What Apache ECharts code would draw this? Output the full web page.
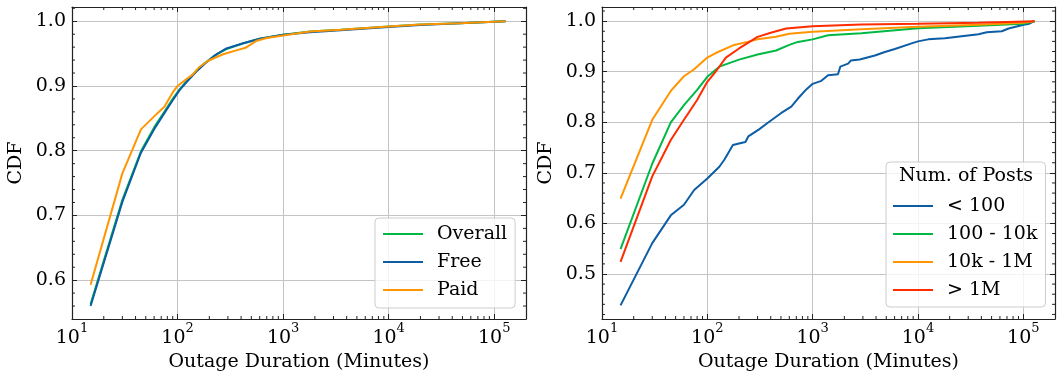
<!DOCTYPE html>
<html>
<head>
<meta charset="utf-8">
<script src="https://cdn.jsdelivr.net/npm/echarts@6/dist/echarts.min.js"></script>
<style>
html,body{margin:0;padding:0;background:#fff;}
#chart{width:1064px;height:380px;}
</style>
</head>
<body>
<div id="chart"></div>
<script>
// ---------------- data ----------------
const leftNames = ['Overall', 'Free', 'Paid'];
const leftOverall = [[15,0.563],[30,0.724],[45,0.799],[60,0.836],[75,0.860],[90,0.880],[105,0.895],[120,0.906],[150,0.923],[180,0.935],[240,0.950],[300,0.958],[420,0.966],[600,0.973],[1000,0.979],[1800,0.984],[3500,0.987],[10000,0.992],[20000,0.995],[47000,0.997],[128000,1.0]];
const leftFree = [[15,0.560],[30,0.721],[45,0.797],[60,0.833],[75,0.858],[90,0.878],[105,0.894],[120,0.905],[150,0.922],[180,0.934],[220,0.946],[290,0.958],[420,0.966],[600,0.973],[1000,0.979],[1800,0.983],[3500,0.986],[10000,0.991],[20000,0.994],[47000,0.997],[128000,1.0]];
const leftPaid = [[15,0.593],[30,0.765],[45,0.833],[60,0.853],[75,0.868],[90,0.890],[100,0.900],[120,0.910],[140,0.918],[160,0.929],[195,0.939],[270,0.949],[360,0.955],[440,0.959],[563,0.970],[700,0.974],[1000,0.978],[1800,0.984],[3500,0.987],[10000,0.992],[20000,0.995],[47000,0.997],[128000,1.0]];

const rightNames = ['< 100', '100 - 10k', '10k - 1M', '> 1M'];
const rightLt100 = [[15,0.438],[30,0.561],[45,0.616],[60,0.637],[75,0.666],[100,0.689],[130,0.712],[145,0.726],[175,0.755],[200,0.758],[230,0.761],[245,0.772],[310,0.786],[370,0.798],[430,0.808],[500,0.818],[627,0.831],[725,0.847],[870,0.865],[1000,0.876],[1210,0.882],[1400,0.893],[1740,0.895],[1830,0.910],[2170,0.916],[2300,0.922],[2800,0.924],[3900,0.932],[4850,0.939],[6030,0.945],[8700,0.956],[10000,0.960],[12500,0.964],[18000,0.966],[26000,0.970],[37600,0.974],[45000,0.978],[62600,0.980],[72500,0.9855],[100700,0.993],[114000,0.995],[128000,1.0]];
const right100to10k = [[15,0.549],[30,0.718],[45,0.800],[60,0.834],[80,0.864],[100,0.890],[130,0.910],[200,0.924],[300,0.934],[450,0.942],[600,0.953],[725,0.959],[1000,0.964],[1400,0.972],[2900,0.976],[10000,0.986],[37600,0.991],[100000,0.995],[128000,1.0]];
const right10kto1M = [[15,0.649],[30,0.805],[45,0.862],[60,0.891],[75,0.905],[100,0.928],[120,0.937],[180,0.953],[240,0.959],[300,0.964],[450,0.969],[600,0.975],[1000,0.979],[2900,0.984],[10000,0.989],[37600,0.993],[100000,0.997],[128000,1.0]];
const rightGt1M = [[15,0.524],[30,0.693],[45,0.765],[60,0.805],[80,0.844],[100,0.880],[120,0.900],[150,0.928],[200,0.946],[300,0.969],[400,0.977],[560,0.9855],[1000,0.990],[2900,0.9935],[10000,0.995],[37600,0.997],[128000,1.0]];

const xMinorTicks = [20,30,40,50,60,70,80,90,200,300,400,500,600,700,800,900,2000,3000,4000,5000,6000,7000,8000,9000,20000,30000,40000,50000,60000,70000,80000,90000];
const leftYMinorTicks = [0.56,0.58,0.62,0.64,0.66,0.68,0.72,0.74,0.76,0.78,0.82,0.84,0.86,0.88,0.92,0.94,0.96,0.98,1.02];
const rightYMinorTicks = [0.42,0.44,0.46,0.48,0.52,0.54,0.56,0.58,0.62,0.64,0.66,0.68,0.72,0.74,0.76,0.78,0.82,0.84,0.86,0.88,0.92,0.94,0.96,0.98,1.02];

const xRange = [10, 200000];
const leftYRange = [0.540, 1.022];
const rightYRange = [0.411, 1.028];

// ---------------- styling ----------------
const FONT = 'DejaVu Serif';
const FS = 19;
const C = { blue: '#0C5DA5', green: '#00B945', orange: '#FF9500', red: '#FF2C00' };
const AX = '#222222';
const GRID = '#c4c4c4';

function xFmt(v) {
  const e = Math.log10(v);
  if (Math.abs(e - Math.round(e)) > 1e-6) return '';
  return '{b|10}{s|' + Math.round(e) + '}';
}
function yFmt(v) {
  if (Math.abs(v * 10 - Math.round(v * 10)) > 1e-6) return '';
  return v.toFixed(1);
}

function xAxes(gridIndex) {
  return [
    { type: 'log', logBase: 10, gridIndex, position: 'bottom', min: xRange[0], max: xRange[1],
      name: 'Outage Duration (Minutes)', nameLocation: 'middle', nameGap: 30,
      nameTextStyle: { fontFamily: FONT, fontSize: FS, color: '#000' },
      axisLine: { show: true, onZero: false, lineStyle: { color: AX, width: 1.2 } },
      axisTick: { show: true, inside: true, length: 5, lineStyle: { color: AX, width: 1 } },
      minorTick: { show: false },
      splitLine: { show: true, lineStyle: { color: GRID, width: 1 } },
      axisLabel: { formatter: xFmt, margin: 3, color: '#000',
        rich: { b: { fontFamily: FONT, fontSize: FS, color: '#000', verticalAlign: 'bottom', lineHeight: 26 },
                s: { fontFamily: FONT, fontSize: 13, color: '#000', verticalAlign: 'top', lineHeight: 26 } } } },
    { type: 'log', logBase: 10, gridIndex, position: 'top', min: xRange[0], max: xRange[1],
      axisLine: { show: true, onZero: false, lineStyle: { color: AX, width: 1.2 } },
      axisTick: { show: true, inside: true, length: 5, lineStyle: { color: AX, width: 1 } },
      splitLine: { show: false }, axisLabel: { show: false } }
  ];
}
function yAxes(gridIndex, range) {
  return [
    { type: 'value', gridIndex, position: 'left', min: range[0], max: range[1], splitNumber: 5,
      name: 'CDF', nameLocation: 'middle', nameGap: 46,
      nameTextStyle: { fontFamily: FONT, fontSize: FS, color: '#000' },
      axisLine: { show: true, onZero: false, lineStyle: { color: AX, width: 1.2 } },
      axisTick: { show: true, inside: true, length: 5, lineStyle: { color: AX, width: 1 } },
      splitLine: { show: true, lineStyle: { color: GRID, width: 1 } },
      axisLabel: { formatter: yFmt, margin: 6, fontFamily: FONT, fontSize: FS, color: '#000', showMinLabel: false, showMaxLabel: false } },
    { type: 'value', gridIndex, position: 'right', min: range[0], max: range[1], splitNumber: 5,
      axisLine: { show: true, onZero: false, lineStyle: { color: AX, width: 1.2 } },
      axisTick: { show: true, inside: true, length: 5, lineStyle: { color: AX, width: 1 } },
      splitLine: { show: false }, axisLabel: { show: false } }
  ];
}

function lineSeries(name, data, color, xi, yi) {
  return { type: 'line', name, data, xAxisIndex: xi, yAxisIndex: yi, symbol: 'none', showSymbol: false,
    lineStyle: { color, width: 2 }, itemStyle: { color }, silent: true, z: 3 };
}
function tickLine(x1, y1, x2, y2) {
  return { type: 'line', shape: { x1, y1, x2, y2 }, style: { stroke: AX, lineWidth: 1 } };
}
function minorX(xi, yi, yr) {
  return { type: 'custom', xAxisIndex: xi, yAxisIndex: yi, silent: true, z: 5,
    data: xMinorTicks.map(v => [v, yr[0]]),
    renderItem: (p, api) => {
      const v = api.value(0);
      const b = api.coord([v, yr[0]]);
      const t = api.coord([v, yr[1]]);
      return { type: 'group', children: [tickLine(b[0], b[1], b[0], b[1] - 3), tickLine(t[0], t[1], t[0], t[1] + 3)] };
    } };
}
function minorY(xi, yi, ticks) {
  return { type: 'custom', xAxisIndex: xi, yAxisIndex: yi, silent: true, z: 5,
    data: ticks.map(v => [xRange[0], v]),
    renderItem: (p, api) => {
      const v = api.value(1);
      const l = api.coord([xRange[0], v]);
      const r = api.coord([xRange[1], v]);
      return { type: 'group', children: [tickLine(l[0], l[1], l[0] + 3, l[1]), tickLine(r[0], r[1], r[0] - 3, r[1])] };
    } };
}

const legendText = { fontFamily: FONT, fontSize: FS, color: '#000', lineHeight: 20, padding: [0, 0, 0, 9] };
const legendCommon = { orient: 'vertical', itemWidth: 40, itemHeight: 14, itemGap: 8,
  backgroundColor: 'rgba(255,255,255,0.8)', borderColor: '#cccccc', borderWidth: 1, borderRadius: 4,
  textStyle: legendText, selectedMode: false, itemStyle: { opacity: 0, borderWidth: 0 } };

const option = {
  animation: false,
  backgroundColor: '#fff',
  title: { text: 'Num. of Posts', left: 966, top: 167, textAlign: 'center', padding: 0, z: 10,
    textStyle: { fontFamily: FONT, fontSize: FS, fontWeight: 'normal', color: '#000' } },
  grid: [
    { left: 72, top: 7, width: 454, height: 312, containLabel: false },
    { left: 602, top: 7, width: 453, height: 312, containLabel: false }
  ],
  xAxis: [...xAxes(0), ...xAxes(1)],
  yAxis: [...yAxes(0, leftYRange), ...yAxes(1, rightYRange)],
  legend: [
    Object.assign({ data: leftNames, left: 375, top: 218, padding: [6, 8, 8, 7] }, legendCommon),
    Object.assign({ data: rightNames, left: 886, top: 162, padding: [34, 8, 7, 6] }, legendCommon)
  ],
  series: [
    lineSeries('Overall', leftOverall, C.green, 0, 0),
    lineSeries('Free', leftFree, C.blue, 0, 0),
    lineSeries('Paid', leftPaid, C.orange, 0, 0),
    lineSeries('< 100', rightLt100, C.blue, 2, 2),
    lineSeries('100 - 10k', right100to10k, C.green, 2, 2),
    lineSeries('10k - 1M', right10kto1M, C.orange, 2, 2),
    lineSeries('> 1M', rightGt1M, C.red, 2, 2),
    minorX(0, 0, leftYRange),
    minorY(0, 0, leftYMinorTicks),
    minorX(2, 2, rightYRange),
    minorY(2, 2, rightYMinorTicks)
  ]
};

const chart = echarts.init(document.getElementById('chart'), null, { renderer: 'canvas' });
chart.setOption(option);
</script>
</body>
</html>
